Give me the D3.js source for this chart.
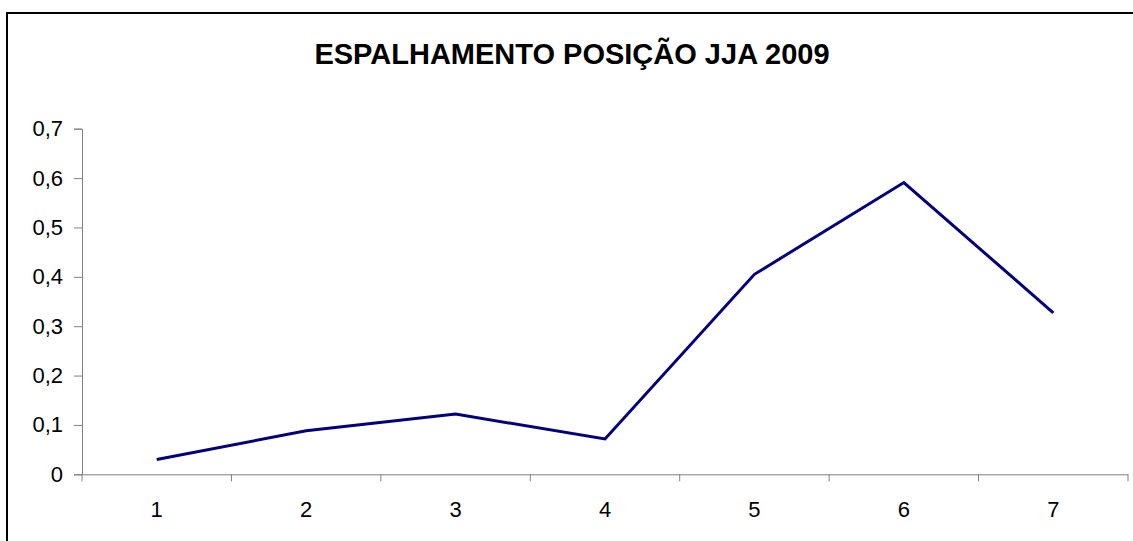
<!DOCTYPE html>
<html><head><meta charset="utf-8">
<script src="https://cdn.jsdelivr.net/npm/d3@7"></script>
<style>body{margin:0;background:#fff}svg{display:block;font-family:"Liberation Sans",Arial,sans-serif}</style>
</head><body>
<script>
const categories = ["1","2","3","4","5","6","7"];
const values = [0.030, 0.088, 0.122, 0.0715, 0.405, 0.591, 0.327];
const yTicks = [0,0.1,0.2,0.3,0.4,0.5,0.6,0.7];
const title = "ESPALHAMENTO POSIÇÃO JJA 2009";

const W=1133,H=541;
const svg=d3.select("body").append("svg").attr("width",W).attr("height",H);
svg.append("rect").attr("x",7).attr("y",13).attr("width",W+20).attr("height",H+20)
  .attr("fill","#fff").attr("stroke","#000").attr("stroke-width",2);

const x=d3.scaleBand().domain(categories).range([82,1128]).padding(0);
const y=d3.scaleLinear().domain([0,0.7]).range([474.3,128.7]);

svg.append("text").attr("x",572).attr("y",64).attr("text-anchor","middle")
  .attr("font-weight","bold").attr("font-size",29).text(title);

const fmt=d=>d===0?"0":d3.format(".1f")(d).replace(".",",");
const ya=svg.append("g").attr("transform","translate(82,0)")
  .call(d3.axisLeft(y).tickValues(yTicks).tickFormat(fmt).tickSizeOuter(0).tickSize(8).tickPadding(11));
const xa=svg.append("g").attr("transform","translate(0,474.3)")
  .call(d3.axisBottom(x).tickSize(0).tickPadding(27));
// boundary ticks
const bounds=categories.map(c=>x(c)).concat([x.range()[1]]);
xa.selectAll("line.b").data(bounds).enter().append("line").attr("class","b")
  .attr("x1",d=>d).attr("x2",d=>d).attr("y1",0).attr("y2",7);
[ya,xa].forEach(a=>{a.selectAll("path,line").attr("stroke","#808080").attr("stroke-width",1);
  a.selectAll("text").attr("font-size",22).attr("fill","#000").attr("font-family","'Liberation Sans',Arial,sans-serif");});

const line=d3.line().x((d,i)=>x(categories[i])+x.bandwidth()/2).y(d=>y(d));
svg.append("path").datum(values).attr("d",line).attr("fill","none")
  .attr("stroke","#000080").attr("stroke-width",3).attr("stroke-linejoin","miter");
</script>
</body></html>
